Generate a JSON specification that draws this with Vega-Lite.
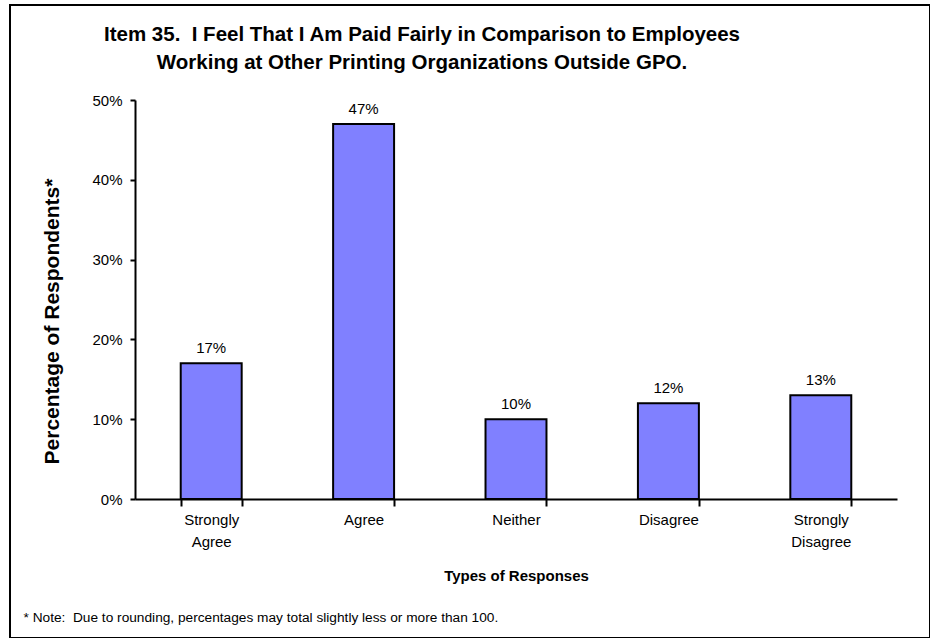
{
  "$schema": "https://vega.github.io/schema/vega-lite/v6.json",
  "width": 920,
  "height": 633,
  "autosize": {"type": "none"},
  "padding": {"left": 10, "top": 5, "right": 0, "bottom": 0},
  "background": "white",
  "config": {
    "view": {"stroke": "black", "strokeWidth": 2},
    "font": "Liberation Sans"
  },
  "title": {
    "text": ["Item 35.\u00a0 I Feel That I Am Paid Fairly in Comparison to Employees", "Working at Other Printing Organizations Outside GPO."],
    "font": "Liberation Sans",
    "fontSize": 20.5,
    "fontWeight": "bold",
    "color": "black",
    "lineHeight": 28,
    "anchor": "middle",
    "dx": -48,
    "dy": 72
  },
  "data": {
    "values": [
      {"response": "Strongly Agree", "pct": 0.17},
      {"response": "Agree", "pct": 0.47},
      {"response": "Neither", "pct": 0.10},
      {"response": "Disagree", "pct": 0.12},
      {"response": "Strongly Disagree", "pct": 0.13}
    ]
  },
  "layer": [
    {
      "mark": {"type": "bar", "fill": "#8080FF", "stroke": "black", "strokeWidth": 2},
      "encoding": {
        "x": {
          "field": "response",
          "type": "nominal",
          "sort": null,
          "scale": {"range": [125, 887], "paddingInner": 0.6, "paddingOuter": 0.3},
          "axis": {
            "orient": "bottom",
            "offset": -139,
            "tickBand": "extent",
            "domainColor": "black",
            "domainWidth": 2,
            "tickColor": "black",
            "tickWidth": 2,
            "tickSize": 7,
            "labelAngle": 0,
            "labelExpr": "split(datum.label, ' ')",
            "labelFont": "Liberation Sans",
            "labelFontSize": 15,
            "labelLineHeight": 22,
            "labelPadding": 6,
            "labelColor": "black",
            "title": "Types of Responses",
            "titleFont": "Liberation Sans",
            "titleFontSize": 15,
            "titleFontWeight": "bold",
            "titleColor": "black",
            "titleY": 69,
            "titleBaseline": "top",
            "titleAlign": "center"
          }
        },
        "y": {
          "field": "pct",
          "type": "quantitative",
          "scale": {"domain": [0, 0.5], "range": [494, 95], "nice": false, "zero": true},
          "axis": {
            "orient": "left",
            "offset": -125,
            "values": [0, 0.1, 0.2, 0.3, 0.4, 0.5],
            "format": ".0%",
            "grid": false,
            "domainColor": "black",
            "domainWidth": 2,
            "tickColor": "black",
            "tickWidth": 2,
            "tickSize": 5,
            "labelFont": "Liberation Sans",
            "labelFontSize": 15,
            "labelColor": "black",
            "labelPadding": 8,
            "title": "Percentage of Respondents*",
            "titleFont": "Liberation Sans",
            "titleFontSize": 21,
            "titleFontWeight": "bold",
            "titleColor": "black",
            "titleAngle": -90,
            "titleX": -83,
            "titleY": 316,
            "titleAlign": "center",
            "titleBaseline": "middle"
          }
        }
      }
    },
    {
      "mark": {"type": "text", "font": "Liberation Sans", "fontSize": 15, "color": "black", "baseline": "alphabetic", "dy": -10},
      "encoding": {
        "x": {
          "field": "response",
          "type": "nominal",
          "sort": null,
          "axis": {
            "orient": "top",
            "domain": false,
            "ticks": false,
            "labels": false,
            "grid": false,
            "title": "* Note:\u00a0 Due to rounding, percentages may total slightly less or more than 100.",
            "titleFont": "Liberation Sans",
            "titleFontSize": 13.7,
            "titleFontWeight": "normal",
            "titleColor": "black",
            "titleX": 13,
            "titleY": 616,
            "titleAlign": "left",
            "titleBaseline": "alphabetic"
          }
        },
        "y": {"field": "pct", "type": "quantitative"},
        "text": {"field": "pct", "type": "quantitative", "format": ".0%"}
      }
    }
  ],
  "resolve": {"axis": {"x": "independent"}}
}
